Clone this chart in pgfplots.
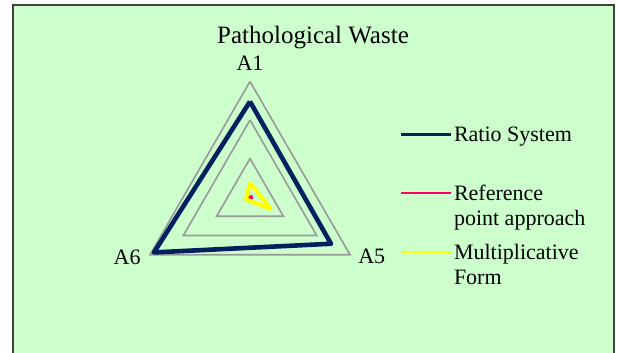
\documentclass[border=0pt]{standalone}
\usepackage{fontspec}
\setmainfont{Liberation Serif}
\usepackage{pgfplots}
\pgfplotsset{compat=1.18}
\usepgfplotslibrary{polar}
\definecolor{bgc}{HTML}{CCFFCC}
\definecolor{ratio}{HTML}{002060}
\definecolor{refpt}{HTML}{FF0066}
\definecolor{multf}{HTML}{FFFF00}
\definecolor{gridc}{HTML}{999999}

\begin{document}
\begin{tikzpicture}
\path[use as bounding box] (-125pt,-78pt) rectangle (184pt,98.5pt);
\fill[bgc] (-118.5pt,-78pt) rectangle (182pt,95.8pt);
\draw[line width=1pt, black!75] (-118.5pt,-78pt) -- (-118.5pt,95.8pt) -- (182pt,95.8pt) -- (182pt,-78pt);

\begin{polaraxis}[
    at={(0,0)}, anchor=center,
    scale only axis, width=115.5pt,
    hide axis,
    xmin=0, xmax=360, ymin=0, ymax=3,
    clip=false,
    legend cell align=left,
    legend style={draw=none, fill=none, at={(1.12,0.83)}, anchor=north west,
        font=\fontsize{11}{12.5}\selectfont, row sep=5.75pt,
        nodes={align=left, inner sep=1pt}},
]
% grid triangles: A1 at 90, A5 at 330, A6 at 210
\addplot[gridc, line width=0.8pt, forget plot] coordinates {(90,1)(330,1)(210,1)(90,1)};
\addplot[gridc, line width=0.8pt, forget plot] coordinates {(90,2)(330,2)(210,2)(90,2)};
\addplot[gridc, line width=0.8pt, forget plot] coordinates {(90,3)(330,3)(210,3)(90,3)};

\addplot[ratio, line width=2.3pt, line join=round,
    legend image code/.code={\draw[ratio, line width=1.2pt] (0pt,7pt) -- (25pt,7pt);}]
    coordinates {(90,2.48)(330,2.43)(210,2.88)(90,2.48)};
\addlegendentry{Ratio System\\\strut}

\addplot[refpt, line width=2pt, line join=round,
    legend image code/.code={\draw[refpt, line width=1.2pt] (0pt,7pt) -- (25pt,7pt);}]
    coordinates {(90,0.03)(330,0.04)(210,0.01)(90,0.03)};
\addlegendentry{Reference\\point approach\strut}

\addplot[multf, line width=2pt, line join=round,
    legend image code/.code={\draw[multf, line width=1.2pt] (0pt,7pt) -- (25pt,7pt);}]
    coordinates {(90,0.37)(330,0.62)(210,0.12)(90,0.37)};
\addlegendentry{Multiplicative\\Form\strut}

\node[font=\fontsize{11}{13}\selectfont] at (axis cs:90,3.48) {A1};
\node[font=\fontsize{11}{13}\selectfont] at (axis cs:206,3.55) {A6};
\node[font=\fontsize{11}{13}\selectfont] at (axis cs:334,3.52) {A5};
\end{polaraxis}

\node[font=\fontsize{12.5}{14}\selectfont] at (31.5pt,79.5pt) {Pathological Waste};
\end{tikzpicture}
\end{document}
